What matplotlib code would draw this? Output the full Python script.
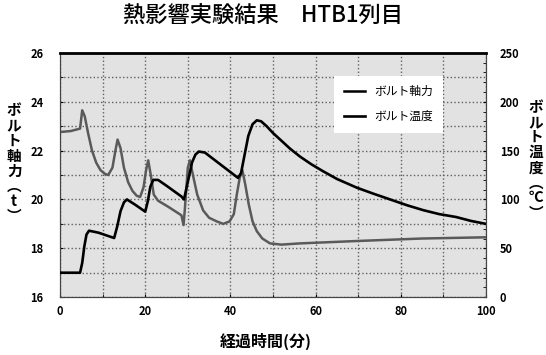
import matplotlib
matplotlib.use('Agg')
import matplotlib.pyplot as plt
from matplotlib.ticker import MultipleLocator

plt.rcParams['font.family'] = ['Noto Sans CJK JP', 'DejaVu Sans']

# ボルト軸力 (t)
force_time = [0, 2.5, 4.7, 5.2, 5.8, 6.6, 7.5, 8.5, 9.5, 10.5, 11.3, 12.3, 13.0, 13.5, 14.2, 15.0,
              16.0, 17.0, 18.0, 18.8, 19.6, 20.2, 20.7, 21.3, 22.0, 23.0, 25.4, 28.5, 29.0, 29.3,
              30.0, 30.5, 31.2, 32.2, 33.6, 35.0, 36.8, 38.3, 39.8, 40.8, 41.5, 42.2, 42.8, 43.5,
              44.3, 45.2, 46.2, 47.5, 49.3, 52, 56.3, 70, 85, 100]
force = [22.76, 22.8, 22.9, 23.65, 23.4, 22.7, 22.0, 21.5, 21.2, 21.05, 21.0, 21.3, 22.0, 22.45,
         22.1, 21.3, 20.7, 20.35, 20.15, 20.1, 20.5, 21.2, 21.6, 21.0, 20.2, 19.95, 19.7, 19.35,
         18.95, 19.6, 21.3, 21.6, 21.0, 20.2, 19.55, 19.25, 19.1, 19.0, 19.1, 19.4, 20.2, 20.9,
         21.2, 20.6, 19.8, 19.1, 18.7, 18.4, 18.2, 18.15, 18.2, 18.3, 18.4, 18.45]

# ボルト温度 (℃)
temp_time = [0, 4.7, 5.2, 5.7, 6.2, 6.8, 9, 12.7, 13.4, 14.2, 15.0, 15.7, 17.5, 20, 20.6, 21.2,
             21.9, 23, 25, 28.5, 29.1, 29.5, 30.3, 31.0, 31.8, 32.6, 34, 37, 40, 41.8, 42.5, 43.3,
             44.2, 45.2, 46.2, 47.2, 48.5, 50, 52, 54, 56.3, 59, 61.7, 65, 69.7, 73.5, 77.5, 81.5,
             85.3, 89, 93, 96.5, 100]
temp = [25, 25, 35, 52, 64, 68, 66, 60.5, 72, 88, 97, 100, 95, 87.5, 98, 113,
        120, 120, 114, 103, 100, 108, 124, 138, 146, 149, 148, 138, 128, 122, 127, 145,
        165, 177, 181, 180, 175, 168, 160, 152, 144, 136, 129, 121, 112, 106, 100, 94,
        89, 85, 82, 78, 75]

fig = plt.figure(figsize=(5.46, 3.55), dpi=100)
ax1 = fig.add_axes([0.110, 0.163, 0.780, 0.688])
ax1.set_facecolor('#e2e2e2')
ax2 = ax1.twinx()

ax1.plot(force_time, force, color='#5a5a5a', lw=1.8, label='ボルト軸力', zorder=3)
ax2.plot(temp_time, temp, color='black', lw=1.9, label='ボルト温度', zorder=3)

ax1.set_xlim(0, 100)
ax1.set_ylim(16, 26)
ax2.set_ylim(0, 250)
ax1.xaxis.set_major_locator(MultipleLocator(20))
ax1.xaxis.set_minor_locator(MultipleLocator(10))
ax1.yaxis.set_major_locator(MultipleLocator(2))
ax1.yaxis.set_minor_locator(MultipleLocator(1))
ax2.yaxis.set_major_locator(MultipleLocator(50))
ax2.yaxis.set_minor_locator(MultipleLocator(10))

ax1.tick_params(which='both', direction='in', labelsize=8, length=2, pad=12)
ax2.tick_params(which='both', direction='in', labelsize=8, length=2, pad=10)
ax1.tick_params(axis='x', pad=6)
plt.setp(ax1.get_xticklabels(), fontweight='bold')
plt.setp(ax1.get_yticklabels(), fontweight='bold')
plt.setp(ax2.get_yticklabels(), fontweight='bold')

# dotted grid: every 10 min, every 1 t
ax1.xaxis.grid(True, which='both', color='#606060', linestyle=':', linewidth=1.0)
ax1.yaxis.grid(True, which='both', color='#606060', linestyle=':', linewidth=1.0)

for ax in (ax1, ax2):
    for s in ax.spines.values():
        s.set_color('#444444')
        s.set_linewidth(0.8)
ax2.spines['top'].set_color('black')
ax2.spines['top'].set_linewidth(2)

fig.text(0.482, 0.953, '熱影響実験結果　HTB1列目', ha='center', va='center', fontsize=16,
         fontweight='medium')
fig.text(0.487, 0.037, '経過時間(分)', ha='center', va='center', fontsize=11.5,
         fontweight='bold')
fig.text(0.026, 0.54, '\n'.join('ボルト軸力') + '\n︵\nt\n︶', ha='center', va='center',
         fontsize=10.5, linespacing=0.93, fontweight='bold')
fig.text(0.982, 0.55, '\n'.join('ボルト温度') + '\n︵\n℃\n︶', ha='center', va='center',
         fontsize=10.5, linespacing=0.93, fontweight='bold')

h1, l1 = ax1.get_legend_handles_labels()
h2, l2 = ax2.get_legend_handles_labels()
leg = ax2.legend(h1 + h2, l1 + l2, loc='upper left', bbox_to_anchor=(0.63, 0.93),
                 frameon=True, fancybox=False, fontsize=8.5, handlelength=1.8,
                 labelspacing=1.0, borderpad=0.8)
leg.get_frame().set_edgecolor('none')
leg.get_frame().set_facecolor('white')
leg.get_frame().set_alpha(1)
for line in leg.get_lines():
    line.set_color('black')

fig.savefig('out.png', dpi=100)
